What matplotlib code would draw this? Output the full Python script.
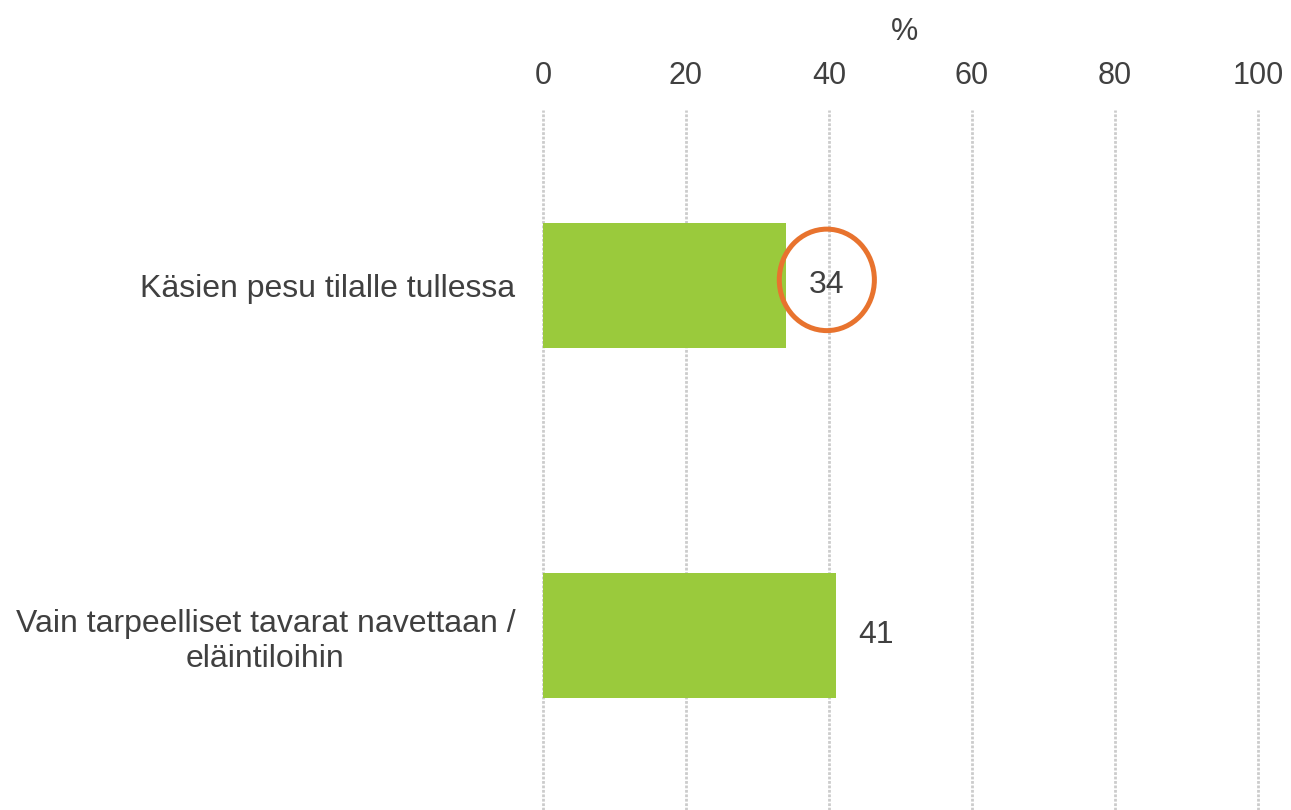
import matplotlib.pyplot as plt
from matplotlib.patches import Ellipse

categories = ["Käsien pesu tilalle tullessa",
              "Vain tarpeelliset tavarat navettaan /\neläintiloihin"]
values = [34, 41]
xticks = [0, 20, 40, 60, 80, 100]

plt.rcParams["font.family"] = ["Liberation Sans", "DejaVu Sans"]
text_col = "#404040"

fig = plt.figure(figsize=(12.91, 8.10), dpi=100)
ax = fig.add_axes([0.4206, 0.0, 0.5538, 0.864])

ypos = list(range(len(categories)))
ax.barh(ypos, values, height=0.357, color="#9ACA3C", zorder=3)
ax.set_xlim(0, 100)
ax.set_ylim(1.5, -0.5)

ax.set_xticks(xticks)
ax.xaxis.tick_top()
ax.tick_params(axis="x", length=0, pad=14, labelsize=22, labelcolor=text_col)
ax.set_yticks(ypos)
ax.set_yticklabels(categories, fontsize=23, color=text_col,
                   multialignment="center", linespacing=1.25)
ax.tick_params(axis="y", length=0, pad=20)
ax.grid(axis="x", color="#cccccc", linestyle=(0, (1, 0.6)), linewidth=2, zorder=0)
for gl in ax.get_xgridlines():
    gl.set_clip_on(False)
for s in ax.spines.values():
    s.set_visible(False)

ax.set_xlabel("%", fontsize=22, color=text_col)
ax.xaxis.set_label_position("top")
ax.xaxis.set_label_coords(0.505, 1.10)

for y, v in zip(ypos, values):
    ax.annotate(str(v), (v, y), xytext=(16, 0), textcoords="offset points",
                ha="left", va="center", fontsize=23, color=text_col)

# highlight circle around the first value
ax.add_patch(Ellipse((39.7, -0.015), 13.3, 0.29, fill=False,
                     edgecolor="#E8732E", linewidth=3.6, zorder=4))

fig.savefig("out.png", dpi=100)
